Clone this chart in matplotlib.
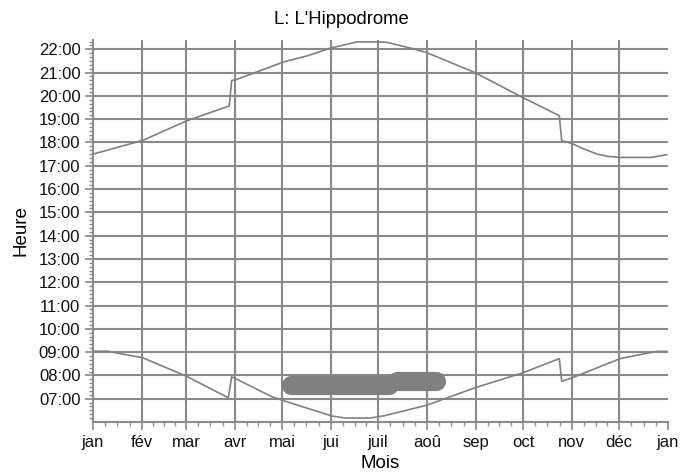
import matplotlib
matplotlib.use("Agg")
import matplotlib.pyplot as plt
from matplotlib.ticker import FixedLocator, FuncFormatter

plt.rcParams['font.family'] = ['Liberation Sans', 'DejaVu Sans']

# --- data (day of year, decimal hours) ---
month_labels = ["jan", "fév", "mar", "avr", "mai", "jui", "juil", "aoû",
                "sep", "oct", "nov", "déc", "jan"]
month_starts = [0, 31, 59, 90, 120, 151, 181, 212, 243, 273, 304, 334, 365]

sunset_days = [0, 31.5, 59.5, 86.5, 88, 90.6, 104, 121, 136, 151.5, 161,
               167.4, 180.7, 186.4, 203, 211.8, 242.5, 272.8, 296, 297.5,
               303.9, 312, 319.7, 327, 334.5, 354.7, 364.2]
sunset_hours = [17.50, 18.09, 18.93, 19.57, 20.66, 20.69, 21.03, 21.46, 21.72,
                22.07, 22.21, 22.32, 22.32, 22.30, 22.03, 21.86, 21.00, 19.93,
                19.15, 18.08, 17.96, 17.71, 17.51, 17.40, 17.36, 17.36, 17.48]

sunrise_days = [0, 9.7, 16, 31.5, 59.5, 85.9, 88, 90.6, 113.4, 121.2, 151.5,
                160, 176, 185, 211.8, 242.5, 272.8, 296, 297.5, 303.9, 334.5,
                351.5, 357.8, 365]
sunrise_hours = [9.04, 9.04, 8.95, 8.76, 7.96, 7.04, 7.94, 7.86, 7.09, 6.91,
                 6.26, 6.17, 6.17, 6.27, 6.72, 7.47, 8.11, 8.72, 7.75, 7.89,
                 8.72, 8.95, 9.03, 9.03]

# shaded period (thick band)
blob_start = [126, 193]
blob_end = [188, 218]
blob_hour = [7.60, 7.76]

hour_ticks = list(range(7, 23))

# --- figure ---
fig = plt.figure(figsize=(6.96, 4.74), dpi=100)
ax = fig.add_axes([0.1336, 0.1097, 0.8262, 0.8059])

grid_c = "#8a8a8a"
line_c = "#808080"

for h in hour_ticks:
    ax.axhline(h, color=grid_c, lw=1.5, zorder=1)
for d in month_starts[1:-1]:
    ax.axvline(d, color=grid_c, lw=1.5, zorder=1)

ax.plot(sunset_days, sunset_hours, color=line_c, lw=1.2, zorder=3)
ax.plot(sunrise_days, sunrise_hours, color=line_c, lw=1.2, zorder=3)

for s, e, h in zip(blob_start, blob_end, blob_hour):
    ax.plot([s, e], [h, h], color="#808080", lw=13.8, solid_capstyle="round",
            zorder=4)

ax.set_xlim(0, 365)
ax.set_ylim(6.0, 22.4)

ax.xaxis.set_major_locator(FixedLocator(month_starts))
ax.set_xticklabels(month_labels)
minor_x = []
for a, b in zip(month_starts[:-1], month_starts[1:]):
    for k in range(1, 4):
        minor_x.append(a + (b - a) * k / 4)
ax.xaxis.set_minor_locator(FixedLocator(minor_x))

ax.yaxis.set_major_locator(FixedLocator(hour_ticks))
ax.yaxis.set_major_formatter(FuncFormatter(lambda v, p: "%02d:00" % int(round(v))))
minor_y = [6 + i / 6 for i in range(0, 6 * 17) if 6 + i / 6 <= 22.4 and i % 6 != 0]
ax.yaxis.set_minor_locator(FixedLocator(minor_y))

for side in ("top", "right"):
    ax.spines[side].set_visible(False)
for side in ("left", "bottom"):
    ax.spines[side].set_color(grid_c)
    ax.spines[side].set_linewidth(1.5)

ax.tick_params(axis="both", which="major", length=6, width=1.2, color=grid_c,
               labelsize=12, labelcolor="#111111", pad=3)
ax.tick_params(axis="both", which="minor", length=3, width=1.0, color=grid_c)

fig.text(0.49, 1 - 20 / 474, "L: L'Hippodrome", fontsize=13.3,
         ha="center", va="center")
ax.set_xlabel("Mois", fontsize=13.5, labelpad=4)
ax.set_ylabel("Heure", fontsize=13.5, labelpad=7)

fig.savefig("out.png", dpi=100)
